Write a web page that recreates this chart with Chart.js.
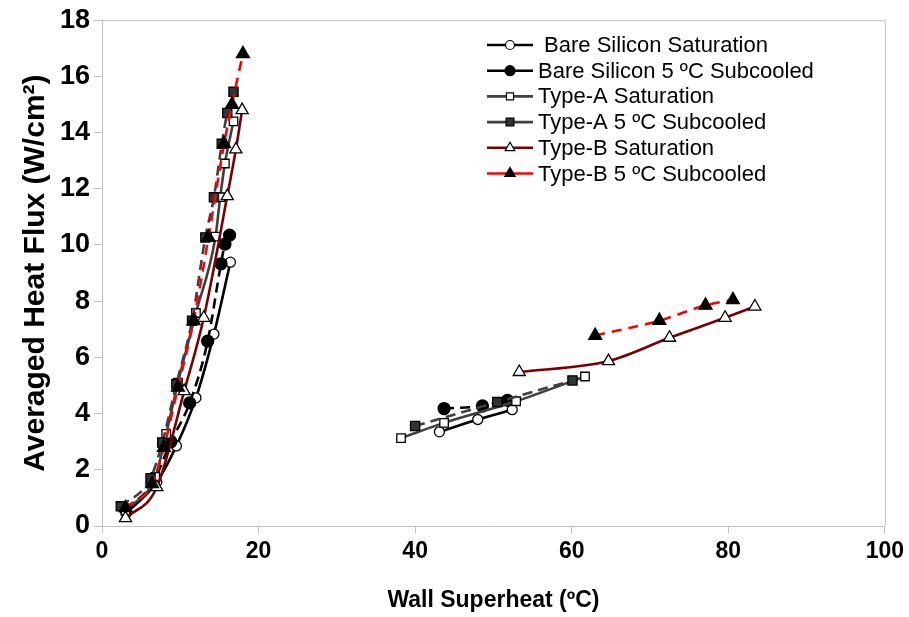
<!DOCTYPE html>
<html>
<head>
<meta charset="utf-8">
<script src="https://cdn.jsdelivr.net/npm/chart.js@4.4.1/dist/chart.umd.min.js"></script>
<style>
  html, body { margin: 0; padding: 0; background: #fff; }
  #wrap { width: 909px; height: 617px; }
</style>
</head>
<body>
<div id="wrap"><canvas id="myChart" width="909" height="617"></canvas></div>
<script>
// series labels
const seriesNames = [' Bare Silicon Saturation', 'Bare Silicon 5 ºC Subcooled', 'Type-A Saturation',
  'Type-A 5 ºC Subcooled', 'Type-B Saturation', 'Type-B 5 ºC Subcooled'];

// wall superheat (ºC) / heat flux (W/cm2); null = break between the two runs
const bareSatX = [3.1, 7.0, 9.5, 12.0, 14.3, 16.4, null, 43.1, 48.0, 52.4];
const bareSatY = [0.45, 1.57, 2.85, 4.56, 6.83, 9.39, null, 3.35, 3.79, 4.14];

const bareSubX = [3.0, 6.4, 8.8, 11.2, 13.5, 15.2, 15.7, 16.3, null, 43.7, 48.6, 51.8];
const bareSubY = [0.6, 1.5, 3.0, 4.38, 6.58, 9.33, 10.03, 10.35, null, 4.18, 4.27, 4.47];

const typeASatX = [3.0, 6.8, 8.2, 9.7, 12.0, 14.5, 15.1, 15.7, 16.8, null, 38.2, 43.7, 52.9, 61.7];
const typeASatY = [0.55, 1.75, 3.28, 5.1, 7.58, 10.3, 11.7, 12.9, 14.4, null, 3.13, 3.67, 4.44, 5.32];

const typeASubX = [2.4, 6.2, 7.7, 9.5, 11.5, 13.2, 14.3, 15.3, 16.0, 16.8, null, 40.0, 50.5, 60.1];
const typeASubY = [0.7, 1.7, 2.97, 5.05, 7.3, 10.27, 11.7, 13.6, 14.7, 15.45, null, 3.56, 4.41, 5.18];

const typeBSatX = [3.0, 7.0, 10.5, 13.0, 16.0, 17.1, 17.9, null, 53.3, 64.7, 72.5, 79.6, 83.4];
const typeBSatY = [0.28, 1.38, 4.8, 7.41, 11.74, 13.4, 14.8, null, 5.48, 5.87, 6.7, 7.41, 7.81];

const typeBSubX = [3.0, 6.4, 7.9, 9.7, 11.7, 13.6, 15.6, 16.6, 18.0, null, 63.0, 71.2, 77.1, 80.6];
const typeBSubY = [0.65, 1.5, 2.79, 4.93, 7.3, 10.27, 13.6, 15.0, 16.8, null, 6.78, 7.31, 7.85, 8.05];

function pts(xs, ys) {
  return xs.map((x, i) => ({ x: x, y: ys[i] }));
}

const boldFont = '"Liberation Sans", Arial, sans-serif';

const styles = [
  { color: '#000000', dash: [], style: 'circle', r: 5, fill: '#ffffff', lr: 4.5 },
  { color: '#000000', dash: [10, 6], style: 'circle', r: 6, fill: '#000000', lr: 5 },
  { color: '#404040', dash: [], style: 'rect', r: 6, fill: '#ffffff', lr: 5 },
  { color: '#404040', dash: [10, 6], style: 'rect', r: 6.5, fill: '#333333', lr: 5.5 },
  { color: '#7a0000', dash: [], style: 'triangle', r: 7, fill: '#ffffff', lr: 5.5 },
  { color: '#ff0000', dash: [10, 7], style: 'triangle', r: 7.5, fill: '#000000', lr: 6 }
];

const allData = [
  pts(bareSatX, bareSatY), pts(bareSubX, bareSubY),
  pts(typeASatX, typeASatY), pts(typeASubX, typeASubY),
  pts(typeBSatX, typeBSatY), pts(typeBSubX, typeBSubY)
];

const datasets = allData.map((d, i) => ({
  label: seriesNames[i],
  data: d,
  borderColor: styles[i].color,
  borderWidth: 2.6,
  borderDash: styles[i].dash,
  pointStyle: styles[i].style,
  pointRadius: styles[i].r,
  pointBackgroundColor: styles[i].fill,
  pointBorderColor: '#000000',
  pointBorderWidth: 1.3,
  showLine: true,
  spanGaps: false,
  cubicInterpolationMode: 'monotone',
  order: 6 - i,
  legendR: styles[i].lr
}));

// box around plot (top and right edges)
const boxPlugin = {
  id: 'box',
  beforeDatasetsDraw(chart) {
    const a = chart.chartArea;
    const ctx = chart.ctx;
    ctx.save();
    ctx.strokeStyle = '#c0c0c0';
    ctx.lineWidth = 1;
    ctx.beginPath();
    ctx.moveTo(a.left, a.top + 0.5);
    ctx.lineTo(a.right + 0.5, a.top + 0.5);
    ctx.lineTo(a.right + 0.5, a.bottom);
    ctx.stroke();
    ctx.restore();
  }
};

// legend with line + marker samples
const lineLegend = {
  id: 'lineLegend',
  afterDraw(chart) {
    const ctx = chart.ctx;
    chart.data.datasets.forEach((ds, i) => {
      const y = 45 + i * 25.7;
      ctx.save();
      ctx.strokeStyle = ds.borderColor;
      ctx.lineWidth = 2.6;
      ctx.beginPath();
      ctx.moveTo(487, y);
      ctx.lineTo(533, y);
      ctx.stroke();
      ctx.fillStyle = ds.pointBackgroundColor;
      ctx.strokeStyle = '#000';
      ctx.lineWidth = 1.2;
      Chart.helpers.drawPoint(ctx, { pointStyle: ds.pointStyle, radius: ds.legendR, borderWidth: 1.2, rotation: 0 }, 510, y);
      ctx.fillStyle = '#000';
      ctx.font = '22px ' + boldFont;
      ctx.textBaseline = 'middle';
      ctx.textAlign = 'left';
      ctx.fillText(ds.label, 538, y + 1);
      ctx.restore();
    });
  }
};

const ctx = document.getElementById('myChart').getContext('2d');
new Chart(ctx, {
  type: 'scatter',
  data: { datasets: datasets },
  options: {
    responsive: false,
    animation: false,
    layout: { padding: { top: 19, right: 22, left: 0, bottom: 0 } },
    plugins: { legend: { display: false }, tooltip: { enabled: false } },
    scales: {
      x: {
        type: 'linear', min: 0, max: 100,
        ticks: { stepSize: 20, color: '#000', padding: 5, font: { family: boldFont, size: 23, weight: 'bold' } },
        grid: { drawOnChartArea: false, tickLength: 7, color: '#c0c0c0' },
        border: { color: '#c0c0c0' },
        title: { display: true, text: 'Wall Superheat (ºC)', color: '#000', padding: { top: 2, bottom: 3 },
          font: { family: boldFont, size: 23, weight: 'bold' } },
        afterFit(s) { s.height = 91; }
      },
      y: {
        type: 'linear', min: 0, max: 18,
        ticks: { stepSize: 2, color: '#000', padding: 4, font: { family: boldFont, size: 27, weight: 'bold' } },
        grid: { drawOnChartArea: false, tickLength: 8, color: '#c0c0c0' },
        border: { color: '#c0c0c0' },
        title: { display: true, text: 'Averaged Heat Flux (W/cm²)', color: '#000', padding: { top: 18, bottom: 0 },
          font: { family: boldFont, size: 30, weight: 'bold' } },
        afterFit(s) { s.width = 102; }
      }
    }
  },
  plugins: [boxPlugin, lineLegend]
});
</script>
</body>
</html>
